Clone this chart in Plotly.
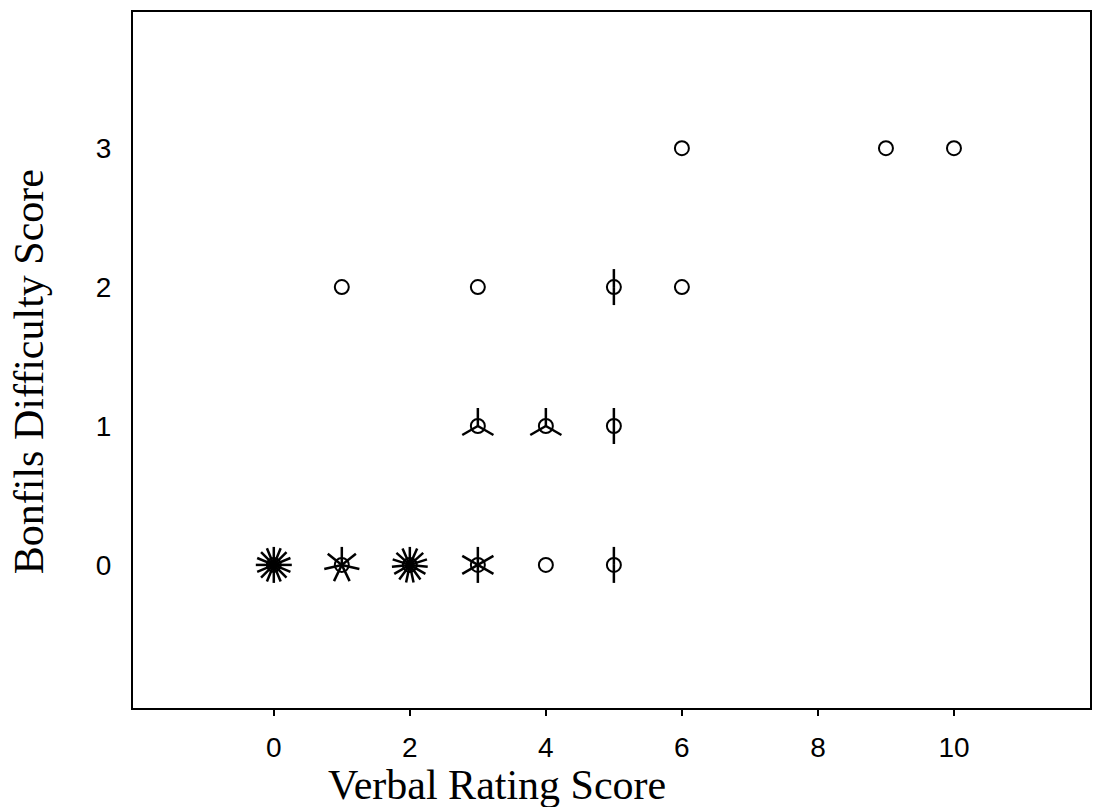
import math
import plotly.graph_objects as go

# Sunflower plot: each (score pair) drawn as a circle with one petal per extra case
verbal = [0, 1, 2, 3, 4, 5, 3, 4, 5, 1, 3, 5, 6, 6, 9, 10]
bonfils = [0, 0, 0, 0, 0, 0, 1, 1, 1, 2, 2, 2, 2, 3, 3, 3]
counts = [16, 7, 15, 6, 1, 2, 3, 3, 2, 1, 1, 2, 1, 1, 1, 1]

x_ticks = [0, 2, 4, 6, 8, 10]
y_ticks = [0, 1, 2, 3]

PETAL_PX = 18
SANS = "Liberation Sans, Arial, sans-serif"
SERIF = "Liberation Serif, Times New Roman, serif"

fig = go.Figure()

fig.add_trace(go.Scatter(
    x=verbal, y=bonfils, mode="markers",
    marker=dict(symbol="circle-open", size=14, color="black",
                line=dict(width=2, color="black")),
    hoverinfo="x+y+text", text=[f"n={c}" for c in counts],
    showlegend=False,
))

shapes = []
for xv, yv, n in zip(verbal, bonfils, counts):
    if n < 2:
        continue
    for k in range(n):
        a = 2 * math.pi * k / n
        shapes.append(dict(
            type="line", xref="x", yref="y",
            xsizemode="pixel", ysizemode="pixel",
            xanchor=xv, yanchor=yv,
            x0=0, y0=0,
            x1=PETAL_PX * math.sin(a), y1=PETAL_PX * math.cos(a),
            line=dict(color="black", width=2.5),
        ))

fig.update_layout(
    width=1096, height=807,
    margin=dict(l=133, r=4, t=12, b=99),
    paper_bgcolor="white", plot_bgcolor="white",
    shapes=shapes,
    font=dict(family=SANS, size=20, color="black"),
    xaxis=dict(
        range=[-2.07, 12.0], tickvals=x_ticks, ticks="outside", ticklen=6,
        tickwidth=2, tickcolor="black", showgrid=False, zeroline=False,
        showline=True, linecolor="black", linewidth=2, mirror=True,
        ticklabelstandoff=7, tickfont=dict(family=SANS, size=28, color="black"),
    ),
    yaxis=dict(
        range=[-1.03, 3.98], tickvals=y_ticks, ticks="", showgrid=False,
        zeroline=False, showline=True, linecolor="black", linewidth=2,
        mirror=True, ticklabelstandoff=14,
        tickfont=dict(family=SANS, size=28, color="black"),
    ),
    annotations=[
        dict(text="Verbal Rating Score", xref="paper", yref="paper",
             x=(498 - 133) / 959, y=-(785 - 708) / 696,
             xanchor="center", yanchor="middle", showarrow=False,
             font=dict(family=SERIF, size=42, color="black")),
        dict(text="Bonfils Difficulty Score", xref="paper", yref="paper",
             x=(29 - 133) / 959, y=(708 - 372) / 696, textangle=-90,
             xanchor="center", yanchor="middle", showarrow=False,
             font=dict(family=SERIF, size=42, color="black")),
    ],
)

fig.write_html("out.html")
